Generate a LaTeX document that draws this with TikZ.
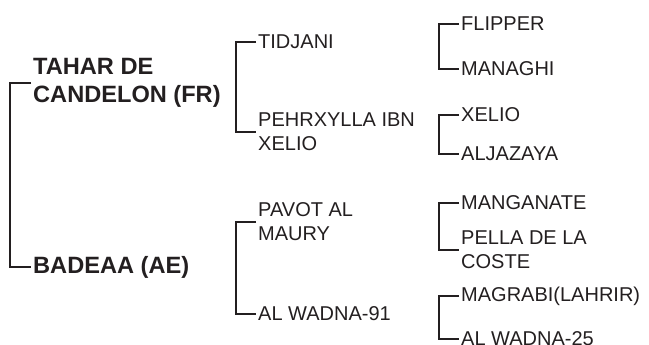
\documentclass[tikz,border=0pt]{standalone}
\usepackage{fontspec}
\setmainfont{Liberation Sans}
\usepackage{tikz}
\definecolor{ink}{HTML}{231F20}
\tikzset{
  every picture/.style={line cap=butt, line join=miter},
  every node/.style={text=ink},
  horse/.style={anchor=west, inner sep=2pt, align=left,
    font=\fontsize{20}{24}\selectfont},
  parent/.style={horse, inner sep=2pt,
    font=\fontsize{23.6}{28}\selectfont\bfseries},
  bracket/.style={draw=ink, line width=2.2pt}
}

\begin{document}
\begin{tikzpicture}[x=1pt, y=-1pt]
  \useasboundingbox (0,0) rectangle (649,345);

  % Parents
  \node[parent] (tahar) at (31,83) {TAHAR DE\\CANDELON (FR)};
  \node[parent] (badeaa) at (31,267) {BADEAA (AE)};
  \draw[bracket] (tahar.west) -- ++(-21,0) |- (badeaa.west);

  % Grandparents
  \node[horse] (tidjani) at (256,42) {TIDJANI};
  \node[horse] (pehrxylla) at (256,132) {PEHRXYLLA IBN\\XELIO};
  \draw[bracket] (tidjani.west) -- ++(-20,0) |- (pehrxylla.west);

  \node[horse] (pavot) at (256,222) {PAVOT AL\\MAURY};
  \node[horse] (wadnaA) at (256,314) {AL WADNA-91};
  \draw[bracket] (pavot.west) -- ++(-20,0) |- (wadnaA.west);

  % Great-grandparents
  \node[horse] (flipper) at (459,24) {FLIPPER};
  \node[horse] (managhi) at (459,69) {MANAGHI};
  \draw[bracket] (flipper.west) -- ++(-20,0) |- (managhi.west);

  \node[horse] (xelio) at (459,115) {XELIO};
  \node[horse] (aljazaya) at (459,154) {ALJAZAYA};
  \draw[bracket] (xelio.west) -- ++(-20,0) |- (aljazaya.west);

  \node[horse] (manganate) at (459,203) {MANGANATE};
  \node[horse] (pella) at (459,250) {PELLA DE LA\\COSTE};
  \draw[bracket] (manganate.west) -- ++(-20,0) |- (pella.west);

  \node[horse] (magrabi) at (459,296) {MAGRABI(LAHRIR)};
  \node[horse] (wadnaB) at (459,339) {AL WADNA-25};
  \draw[bracket] (magrabi.west) -- ++(-20,0) |- (wadnaB.west);
\end{tikzpicture}
\end{document}
